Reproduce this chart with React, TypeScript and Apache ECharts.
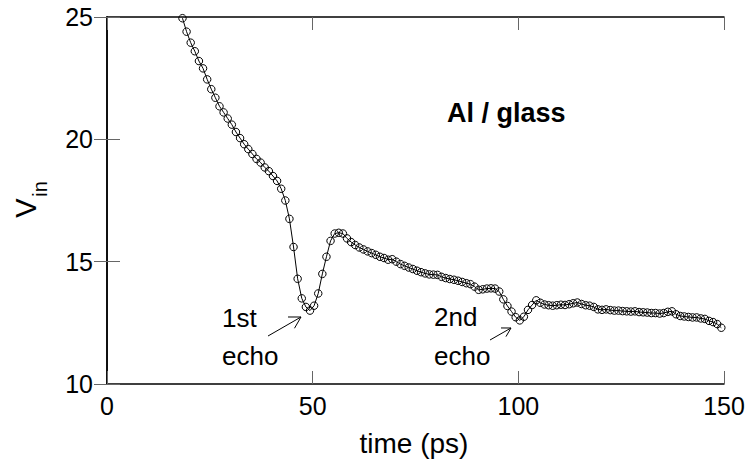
import React, { useEffect, useRef } from "react";
import * as echarts from "echarts";

// time grid (ps): first sample and sample step
const timeStart = 18.35;
const timeStep = 1;

// V_in samples, one per ps starting at timeStart
const vin = [
  24.95, 24.4, 23.95, 23.6, 23.2, 22.9, 22.45, 22.05, 21.7, 21.35,
  21.1, 20.85, 20.6, 20.3, 20.05, 19.8, 19.6, 19.4, 19.2, 19.05,
  18.85, 18.7, 18.5, 18.3, 17.98, 17.5, 16.75, 15.6, 14.3, 13.5,
  13.15, 13.0, 13.2, 13.7, 14.5, 15.2, 15.85, 16.15, 16.18, 16.15,
  15.95, 15.8, 15.68, 15.58, 15.5, 15.42, 15.35, 15.28, 15.2, 15.15,
  15.08, 15.1, 15.0, 14.9, 14.83, 14.76, 14.7, 14.63, 14.57, 14.52,
  14.48, 14.47, 14.46, 14.38, 14.33, 14.29, 14.26, 14.22, 14.17, 14.12,
  14.08, 13.98, 13.85, 13.87, 13.9, 13.91, 13.9, 13.78, 13.46, 13.19,
  12.96, 12.73, 12.6, 12.75, 13.03, 13.23, 13.42, 13.32, 13.25, 13.22,
  13.2, 13.22, 13.24, 13.23, 13.26, 13.3, 13.33, 13.27, 13.22, 13.2,
  13.15, 13.05, 13.03, 13.05, 13.02, 13.0, 13.0, 12.98, 12.97, 12.96,
  12.97, 12.94, 12.93, 12.92, 12.9, 12.9, 12.88, 12.9, 12.95, 12.97,
  12.85, 12.78, 12.76, 12.74, 12.72, 12.72, 12.68, 12.66, 12.58, 12.53,
  12.45, 12.3,
];

const xTicks = [0, 50, 100, 150];
const yTicks = [10, 15, 20, 25];

const FONT = "'Liberation Sans', Arial, Helvetica, sans-serif";

function arrow(x1: number, y1: number, x2: number, y2: number, head: number) {
  const ang = Math.atan2(y1 - y2, x1 - x2);
  const a = Math.PI / 6;
  const b1 = [x2 + head * Math.cos(ang + a), y2 + head * Math.sin(ang + a)];
  const b2 = [x2 + head * Math.cos(ang - a), y2 + head * Math.sin(ang - a)];
  return [
    { type: "line", shape: { x1, y1, x2, y2 }, style: { stroke: "#000", lineWidth: 1 }, z: 10 },
    { type: "polyline", shape: { points: [b1, [x2, y2], b2] }, style: { stroke: "#000", lineWidth: 1, fill: null }, z: 10 },
  ];
}

export default function App() {
  const ref = useRef<HTMLDivElement>(null);
  useEffect(() => {
    document.body.style.margin = "0";
    const chart = echarts.init(ref.current!, null, { renderer: "svg" });
    const data = vin.map((v, i) => [timeStart + i * timeStep, v]);
    const tickStyle = { show: true, inside: true, length: 13, lineStyle: { color: "#666", width: 1 } };
    const lineStyle = { color: "#000", width: 1.5 };
    const txt = (text: string, x: number, y: number, size: number, extra: any = {}) => ({
      type: "text",
      x,
      y,
      z: 10,
      style: { text, fill: "#000", font: `${extra.weight || "normal"} ${size}px ${FONT}`, textAlign: extra.align || "left", textVerticalAlign: "middle" },
      rotation: extra.rotation || 0,
    });
    chart.setOption({
      animation: false,
      backgroundColor: "#fff",
      grid: { left: 107, top: 17, right: 25, bottom: 77, containLabel: false },
      xAxis: [
        {
          type: "value", min: xTicks[0], max: xTicks[xTicks.length - 1], interval: 50,
          axisLine: { show: true, lineStyle }, axisTick: tickStyle, splitLine: { show: false },
          axisLabel: { fontSize: 25, color: "#000", fontFamily: FONT, margin: 9 },
        },
        {
          type: "value", position: "top", min: 0, max: 150, interval: 50,
          axisLine: { show: true, lineStyle }, axisTick: tickStyle, splitLine: { show: false },
          axisLabel: { show: false },
        },
      ],
      yAxis: [
        {
          type: "value", min: yTicks[0], max: yTicks[yTicks.length - 1], interval: 5,
          axisLine: { show: true, lineStyle }, axisTick: tickStyle, splitLine: { show: false },
          axisLabel: { fontSize: 25, color: "#000", fontFamily: FONT, margin: 14 },
        },
        {
          type: "value", position: "right", min: 10, max: 25, interval: 5,
          axisLine: { show: true, lineStyle }, axisTick: tickStyle, splitLine: { show: false },
          axisLabel: { show: false },
        },
      ],
      series: [
        {
          type: "line",
          data,
          symbol: "circle",
          symbolSize: 7.5,
          showSymbol: true,
          clip: true,
          lineStyle: { color: "#000", width: 1 },
          itemStyle: { color: "rgba(0,0,0,0)", borderColor: "#000", borderWidth: 1 },
          z: 5,
        },
      ],
      graphic: [
        txt("Al / glass", 447, 113, 27, { weight: "bold" }),
        txt("1st", 222, 318, 26),
        txt("echo", 222, 356, 26),
        txt("2nd", 434, 317, 26),
        txt("echo", 434, 356, 26),
        txt("time (ps)", 414, 443, 28, { align: "center" }),
        txt("V", 26, 208, 29, { align: "center", rotation: Math.PI / 2 }),
        txt("in", 40, 189, 20, { align: "center", rotation: Math.PI / 2 }),
        ...arrow(268, 336, 301, 317, 13),
        ...arrow(490, 340, 511, 328, 10),
      ],
    });
    return () => chart.dispose();
  }, []);
  return <div ref={ref} style={{ width: 749, height: 461, position: "absolute", left: 0, top: 0 }} />;
}
